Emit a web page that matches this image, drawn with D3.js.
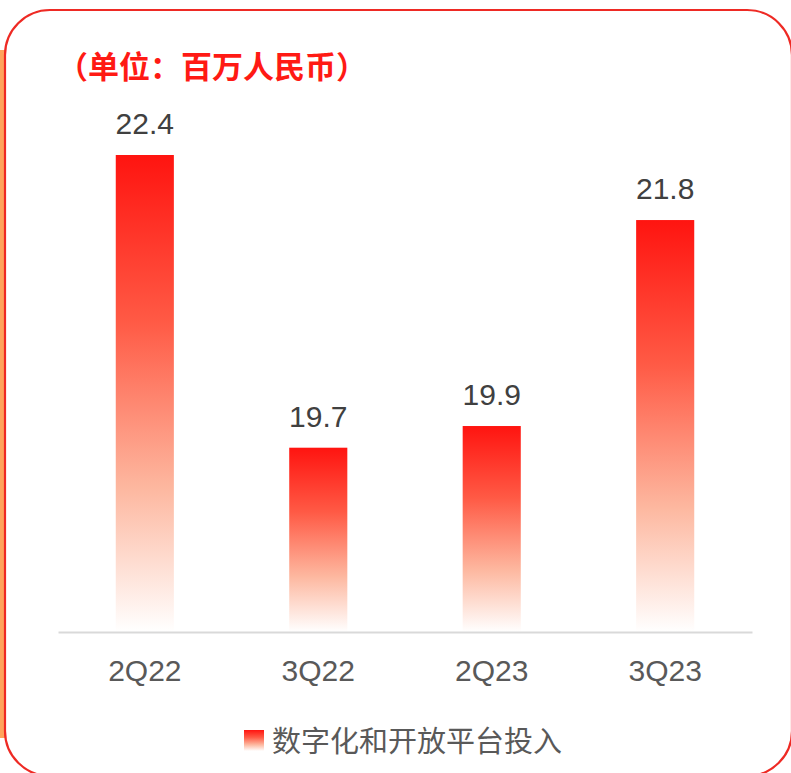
<!DOCTYPE html>
<html>
<head>
<meta charset="utf-8">
<script src="https://cdn.jsdelivr.net/npm/d3@7"></script>
<style>
  body { margin: 0; background: #fff; }
  svg { display: block; }
</style>
</head>
<body>
<div id="chart"></div>
<script>
var categories = ["2Q22", "3Q22", "2Q23", "3Q23"];
var values = [22.4, 19.7, 19.9, 21.8];
var seriesName = "数字化和开放平台投入";
var unitTitle = "（单位：百万人民币）";

var W = 791, H = 773;
var latin = "'Liberation Sans', Arial, sans-serif";
var cjk = "'Noto Sans CJK SC', 'Liberation Sans', sans-serif";

var svg = d3.select("#chart").append("svg")
  .attr("width", W).attr("height", H);

var defs = svg.append("defs");
var grad = defs.append("linearGradient")
  .attr("id", "barGrad")
  .attr("x1", 0).attr("y1", 0).attr("x2", 0).attr("y2", 1);
grad.append("stop").attr("offset", "0%").attr("stop-color", "#ff1410");
grad.append("stop").attr("offset", "35%").attr("stop-color", "#ff5a45");
grad.append("stop").attr("offset", "70%").attr("stop-color", "#fdb8a0");
grad.append("stop").attr("offset", "100%").attr("stop-color", "#ffffff");

// side strip and rounded frame
svg.append("rect")
  .attr("x", 0).attr("y", 50).attr("width", 5).attr("height", 688)
  .attr("fill", "#ffa45c");
svg.append("rect")
  .attr("x", 5).attr("y", 10).attr("width", 787).attr("height", 766)
  .attr("rx", 45).attr("ry", 45)
  .attr("fill", "#fff")
  .attr("stroke", "#ee2a24").attr("stroke-width", 2.2);

// title
svg.append("text")
  .attr("x", 57).attr("y", 78)
  .attr("font-family", cjk).attr("font-weight", "bold")
  .attr("font-size", 31).attr("fill", "#ff1a14")
  .text(unitTitle);

var x = d3.scaleBand()
  .domain(categories)
  .range([58, 752])
  .paddingInner(0.665)
  .paddingOuter(0.333);

var y = d3.scaleLinear()
  .domain([18, 22.4])
  .range([632, 155]);

// bars
svg.append("g").selectAll("rect")
  .data(values)
  .enter()
  .append("rect")
  .attr("x", function (d, i) { return x(categories[i]); })
  .attr("y", function (d) { return y(d); })
  .attr("width", x.bandwidth())
  .attr("height", function (d) { return y(18) - y(d); })
  .attr("fill", "url(#barGrad)");

// value labels
svg.append("g").selectAll("text")
  .data(values)
  .enter()
  .append("text")
  .attr("x", function (d, i) { return x(categories[i]) + x.bandwidth() / 2; })
  .attr("y", function (d) { return y(d) - 21; })
  .attr("text-anchor", "middle")
  .attr("font-family", latin).attr("font-size", 30)
  .attr("fill", "#404040")
  .text(function (d) { return d.toFixed(1); });

// x axis
var xAxis = svg.append("g")
  .attr("transform", "translate(0,632)")
  .call(d3.axisBottom(x).tickSize(0).tickPadding(28).tickSizeOuter(0));
xAxis.select(".domain").attr("stroke", "#d9d9d9").attr("stroke-width", 2);
xAxis.selectAll("text")
  .attr("font-family", latin).attr("font-size", 30)
  .attr("fill", "#595959");

// legend
var lg = svg.append("g").attr("transform", "translate(244,730)");
lg.append("rect")
  .attr("width", 20).attr("height", 21)
  .attr("fill", "url(#barGrad)");
lg.append("text")
  .attr("x", 28).attr("y", 22)
  .attr("font-family", cjk).attr("font-size", 29)
  .attr("fill", "#595959")
  .text(seriesName);
</script>
</body>
</html>
